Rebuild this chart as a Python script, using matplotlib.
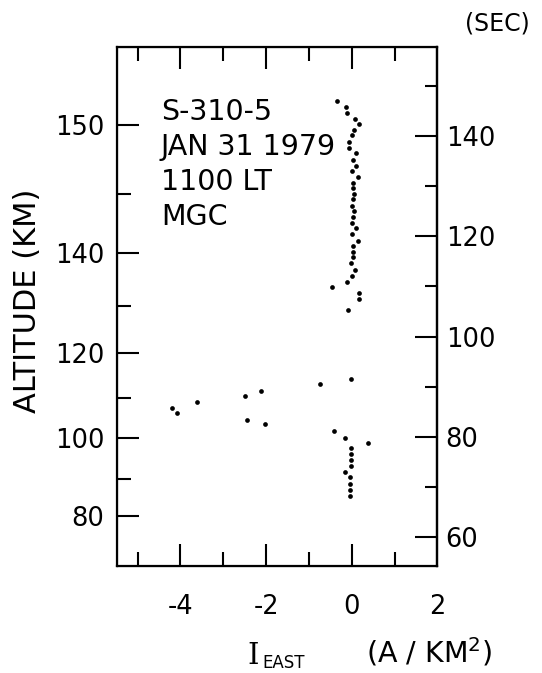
import matplotlib
matplotlib.use("Agg")
import matplotlib.pyplot as plt

# S-310-5 rocket, eastward current density against flight time
time_s = [146.9, 145.7, 144.5, 143.4, 142.4, 141.2, 140.2, 138.8, 137.6, 136.6,
          135.2, 134.1, 133.0, 131.8, 130.6, 129.6, 128.4, 127.4, 126.1, 125.1,
          123.9, 122.7, 121.6, 120.4, 119.1, 118.1, 116.9, 115.8, 114.7, 113.3,
          112.1, 110.9, 109.9, 108.8, 107.5, 105.4,
          91.6, 90.5, 89.1, 88.1, 87.0, 85.8, 84.7, 83.4, 82.5, 81.2,
          79.9, 78.8, 77.8, 76.6, 75.4, 74.2, 73.1, 72.0, 70.7, 69.5, 68.3]
i_east = [-0.35, -0.14, -0.10, 0.07, 0.16, 0.06, 0.01, -0.07, -0.07, 0.09,
          0.02, 0.10, 0.01, 0.14, 0.02, 0.02, 0.05, 0.04, 0.01, 0.05,
          0.02, 0.01, 0.09, 0.01, 0.15, 0.02, 0.02, 0.02, -0.01, 0.08,
          0.00, -0.12, -0.47, 0.17, 0.16, -0.09,
          -0.01, -0.73, -2.13, -2.50, -3.62, -4.20, -4.09, -2.45, -2.03, -0.42,
          -0.15, 0.39, -0.02, -0.02, -0.02, -0.02, -0.16, -0.03, -0.04, -0.05, -0.04]

# altitude scale (left) is not linear in time
alt_major_km = [80, 100, 120, 140, 150]
alt_major_t = [64.2, 79.9, 96.7, 116.7, 142.2]
alt_minor_t = [71.6, 87.7, 106.1, 128.4]  # 90, 110, 130, 145 km

sec_major = [60, 80, 100, 120, 140]
sec_minor = [70, 90, 110, 130, 150]

x_major = [-4, -2, 0]
x_major_lab = ["-4", "-2", "0"]
x_minor = [-5, -3, -1, 1]

plt.rcParams['font.family'] = 'DejaVu Sans'
fs = 18.5

fig = plt.figure(figsize=(5.42, 6.73), dpi=100)
ax = fig.add_axes([0.216, 0.159, 0.591, 0.771])

ax.plot(i_east, time_s, 'o', color='black', ms=3.4, mew=0)
ax.set_xlim(-5.48, 2.0)
ax.set_ylim(54.3, 157.7)

ax.set_xticks(x_major)
ax.set_xticklabels(x_major_lab)
ax.set_xticks(x_minor, minor=True)
ax.set_yticks(alt_major_t)
ax.set_yticklabels([str(a) for a in alt_major_km])
ax.set_yticks(alt_minor_t, minor=True)

ax.tick_params(which='both', direction='in', width=1.5, top=True, labelsize=fs)
ax.tick_params(which='major', length=16)
ax.tick_params(which='minor', length=10)
ax.tick_params(axis='x', pad=20)
ax.tick_params(axis='y', pad=9)
for s in ax.spines.values():
    s.set_linewidth(1.6)

# "2" sits on the right edge of the frame
ax.text(2.0, -0.054, "2", transform=ax.get_xaxis_transform(), fontsize=fs,
        ha='center', va='top')

ax2 = ax.twinx()
ax2.set_ylim(ax.get_ylim())
ax2.set_yticks(sec_major)
ax2.set_yticks(sec_minor, minor=True)
ax2.tick_params(which='both', direction='in', width=1.5, labelsize=fs, pad=6)
ax2.tick_params(which='major', length=16)
ax2.tick_params(which='minor', length=9)
ax2.spines['right'].set_linewidth(1.6)

ax.text(0.137, 0.902, "S-310-5\nJAN 31 1979\n1100 LT\nMGC", transform=ax.transAxes,
        fontsize=20.5, va='top', ha='left', linespacing=1.32)

fig.text(28 / 542, 1 - 301 / 673, "ALTITUDE (KM)", rotation=90, fontsize=22,
         ha='center', va='center')
fig.text(497 / 542, 1 - 23 / 673, "(SEC)", fontsize=17, ha='center', va='center')

fig.text(253 / 542, 1 - 664 / 673, "I", family='DejaVu Serif', fontsize=21,
         ha='center', va='baseline')
fig.text(262 / 542, 1.5 / 673, "EAST", fontsize=12, ha='left', va='bottom')
fig.text(366 / 542, 1 - 663 / 673, "(A / KM$^2$)", fontsize=20.5, ha='left',
         va='baseline')

fig.savefig("out.png", dpi=100)
